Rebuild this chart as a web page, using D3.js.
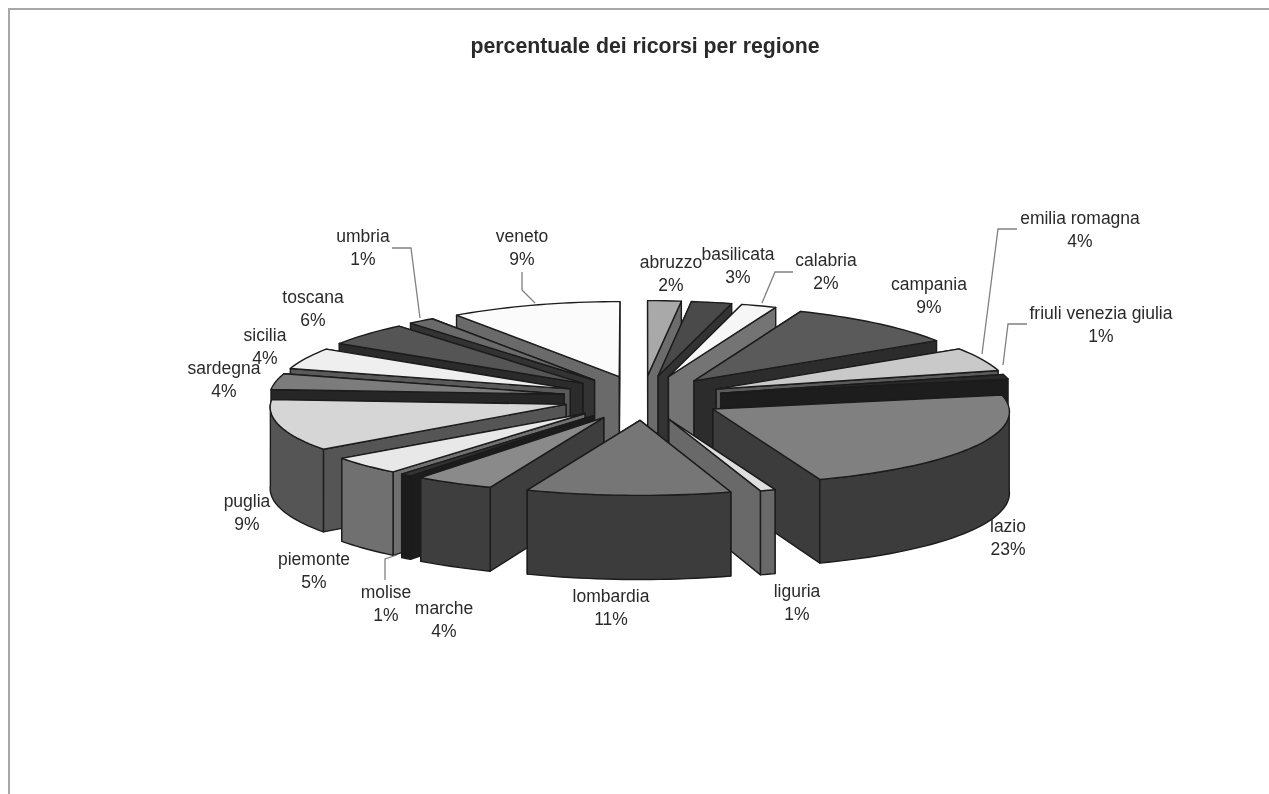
<!DOCTYPE html>
<html><head><meta charset="utf-8">
<script src="https://cdn.jsdelivr.net/npm/d3@7"></script>
<style>html,body{margin:0;padding:0;background:#fff}svg{display:block;filter:blur(0.45px)}text{font-family:"Liberation Sans",Arial,sans-serif;fill:#2a2a2a}</style>
</head><body><div id="c"></div>
<script>
const title = "percentuale dei ricorsi per regione";
const regions = ["abruzzo","basilicata","calabria","campania","emilia romagna","friuli venezia giulia","lazio","liguria","lombardia","marche","molise","piemonte","puglia","sardegna","sicilia","toscana","umbria","veneto"];
const shareLabels = [2,3,2,9,4,1,23,1,11,4,1,5,9,4,4,6,1,9];
const shareValues = [1.9,2.3,2,9.8,5,1,22.4,0.8,10.8,4.2,0.6,4,11.2,3.4,4.5,4.9,1.5,9.7];
const topColors = ["#a9a9a9","#4a4a4a","#f6f6f6","#5a5a5a","#c9c9c9","#2a2a2a","#808080","#dedede","#767676","#8a8a8a","#333333","#e8e8e8","#d6d6d6","#7c7c7c","#efefef","#555555","#6a6a6a","#fbfbfb"];
const wallColors = ["#6c6c6c","#333333","#747474","#2c2c2c","#5a5a5a","#1d1d1d","#3c3c3c","#696969","#3c3c3c","#3e3e3e","#1c1c1c","#707070","#555555","#262626","#5a5a5a","#2b2b2b","#333333","#6a6a6a"];
// label anchors [x, baseline of first line]
const labelAnchors = [[671,268],[738,260],[826,266],[929,290],[1080,224],[1101,319],[1008,532],[797,597],[611,602],[444,614],[386,598],[314,565],[247,507],[224,374],[265,341],[313,303],[363,242],[522,242]];
const leaders = {"emilia romagna":[[1017,229],[998,229],[982,354]],"friuli venezia giulia":[[1027,324],[1008,324],[1003,365]],"umbria":[[392,248],[411,248],[420,318]],"veneto":[[522,272],[522,290],[535,303]],"calabria":[[793,272],[775,272],[762,303]],"molise":[[385,580],[385,559],[397,555]]};

const W=1269,H=794, cx=643, cy=398, rx=295, ry=75, depth=81, explode=80, explodeY=0.28, persp=0.03;
const svg=d3.select("#c").append("svg").attr("width",W).attr("height",H);
svg.append("path").attr("d",`M${W},9H9V${H}`).attr("stroke","#a8a8a8").attr("stroke-width",2).attr("fill","none");
svg.append("text").attr("x",645).attr("y",53).attr("text-anchor","middle").attr("font-size",21.3).attr("font-weight","bold").text(title);

const pie=d3.pie().sort(null).value(d=>d.v);
const arcs=pie(regions.map((r,i)=>({r,i,v:shareValues[i]})));
function P(x0,y0,a,r,z){ // a clockwise from 12 o'clock, r in 0..1; z = drop below the top surface
  const X=x0+r*rx*Math.sin(a), Y=y0-r*ry*Math.cos(a);
  const s=1+persp*(Y-cy)/ry;
  return [cx+(X-cx)*s, Y+(z||0)*s];
}
const line=d3.line();
const stroke="#1c1c1c";
arcs.forEach(d=>{d.mid=(d.startAngle+d.endAngle)/2;d.x0=cx+explode*Math.sin(d.mid);d.y0=cy-explode*explodeY*Math.cos(d.mid);});
const order=arcs.slice().sort((a,b)=>(-Math.cos(a.mid))-(-Math.cos(b.mid)));
const g=svg.append("g").attr("stroke",stroke).attr("stroke-width",1.4).attr("stroke-linejoin","round");
function arcPts(d,a0,a1,z){const n=Math.max(2,Math.ceil((a1-a0)/0.03));return d3.range(n+1).map(k=>P(d.x0,d.y0,a0+(a1-a0)*k/n,1,z));}
function radialWall(d,a){const A=P(d.x0,d.y0,0,0,0),B=P(d.x0,d.y0,a,1,0),C=P(d.x0,d.y0,a,1,depth),D=P(d.x0,d.y0,0,0,depth);return line([A,B,C,D])+"Z";}
order.forEach(d=>{
  const sl=g.append("g").attr("class","slice");
  const wc=wallColors[d.data.i];
  const right=d.mid<Math.PI;
  const far=right?d.startAngle:d.endAngle, near=right?d.endAngle:d.startAngle;
  sl.append("path").attr("d",radialWall(d,far)).attr("fill",wc);
  const lo=Math.max(d.startAngle,Math.PI/2), hi=Math.min(d.endAngle,3*Math.PI/2);
  sl.append("path").attr("d",radialWall(d,near)).attr("fill",wc);
  if(hi>lo){
    const top=arcPts(d,lo,hi,0), bot=arcPts(d,lo,hi,depth).reverse();
    sl.append("path").attr("d",line(top.concat(bot))+"Z").attr("fill",wc);
  }
  const pts=[P(d.x0,d.y0,0,0,0)].concat(arcPts(d,d.startAngle,d.endAngle,0));
  sl.append("path").attr("d",line(pts)+"Z").attr("fill",topColors[d.data.i]);
});
Object.values(leaders).forEach(p=>svg.append("path").attr("d",line(p)).attr("fill","none").attr("stroke","#808080").attr("stroke-width",1.3));
regions.forEach((r,i)=>{
  const t=svg.append("text").attr("text-anchor","middle").attr("font-size",17.5);
  t.append("tspan").attr("x",labelAnchors[i][0]).attr("y",labelAnchors[i][1]).text(r);
  t.append("tspan").attr("x",labelAnchors[i][0]).attr("y",labelAnchors[i][1]+22.5).text(shareLabels[i]+"%");
});
</script></body></html>
